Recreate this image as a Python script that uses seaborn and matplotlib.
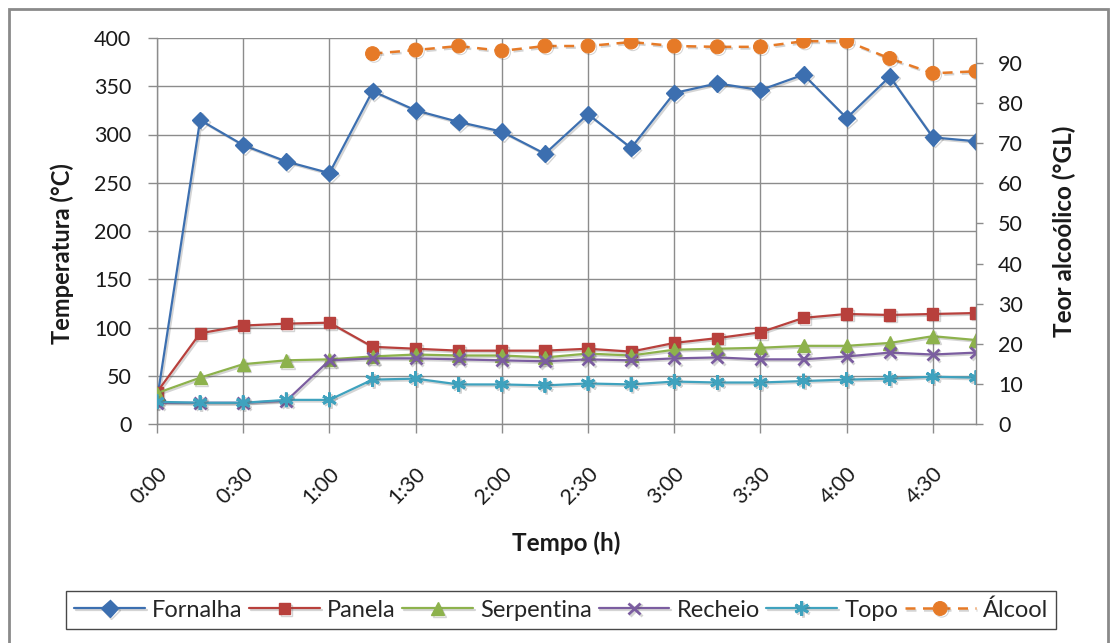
import numpy as np
import pandas as pd
import matplotlib
matplotlib.use("Agg")
import matplotlib.pyplot as plt
import matplotlib.patheffects as pe
from matplotlib.patches import Rectangle
import seaborn as sns

# Sampling instants (minutes) and labels on the time axis
minutes = [0, 15, 30, 45, 60, 75, 90, 105, 120, 135, 150, 165, 180, 195, 210, 225, 240, 255, 270, 285]
tick_minutes = [0, 30, 60, 90, 120, 150, 180, 210, 240, 270]
tick_labels = ["0:00", "0:30", "1:00", "1:30", "2:00", "2:30", "3:00", "3:30", "4:00", "4:30"]

# Temperatures (°C)
fornalha = [25, 315, 289, 272, 260, 345, 325, 313, 303, 280, 321, 286, 343, 353, 346, 362, 317, 360, 297, 293]
panela = [33, 94, 102, 104, 105, 80, 78, 76, 76, 76, 78, 75, 84, 89, 95, 110, 114, 113, 114, 115]
serpentina = [32, 48, 62, 66, 67, 70, 72, 71, 71, 69, 73, 71, 77, 78, 79, 81, 81, 84, 91, 87]
recheio = [22, 22, 22, 24, 66, 68, 68, 67, 66, 65, 67, 66, 68, 69, 67, 67, 70, 74, 72, 74]
topo = [23, 22, 22, 25, 25, 46, 47, 41, 41, 40, 42, 41, 44, 43, 43, 44.5, 46, 47, 49, 48]

# Alcohol content (°GL), measured from 1:15 on
alcool = [None, None, None, None, None, 92.3, 93.2, 94.2, 93, 94.2, 94.2, 95.2, 94.2, 94, 94, 95.4, 95.4, 91.1, 87.4, 87.9]

sns.set_style("white")
plt.rcParams["font.family"] = ["Lato", "DejaVu Sans"]

temp_df = pd.DataFrame({
    "t": minutes,
    "Fornalha": fornalha,
    "Panela": panela,
    "Serpentina": serpentina,
    "Recheio": recheio,
    "Topo": topo,
})
alc_df = pd.DataFrame({"t": minutes, "Álcool": alcool}).dropna()

W, H = 1110, 643
fig = plt.figure(figsize=(W / 100, H / 100), dpi=100)
left, right, top, bottom = 157, 976, 38, 424
ax = fig.add_axes([left / W, 1 - bottom / H, (right - left) / W, (bottom - top) / H])
ax2 = ax.twinx()

grid_c = "#8c8c8c"
txt_c = "#1a1a1a"
shadow = [pe.SimpleLineShadow(offset=(1.2, -1.2), shadow_color="#555555", alpha=0.25), pe.Normal()]

styles = {
    "Fornalha": dict(color="#3C6FB0", marker="D", markersize=8.5),
    "Panela": dict(color="#B8403C", marker="s", markersize=8),
    "Serpentina": dict(color="#8DB24C", marker="^", markersize=9.5),
    "Recheio": dict(color="#7B5DA0", marker="x", markersize=8.5, markeredgewidth=2),
    "Topo": dict(color="#3FA2BE", marker=(6, 2, 0), markersize=10.5, markeredgewidth=2),
}

for name, st in styles.items():
    sns.lineplot(data=temp_df, x="t", y=name, ax=ax, label=name, linewidth=1.6,
                 color=st["color"], marker=st["marker"], markersize=st["markersize"],
                 markeredgecolor=st["color"], markeredgewidth=st.get("markeredgewidth", 1),
                 zorder=3)
    ax.lines[-1].set_path_effects(shadow)

sns.lineplot(data=alc_df, x="t", y="Álcool", ax=ax2, label="Álcool", linewidth=1.8,
             color="#E67A27", marker="o", markersize=10, markeredgecolor="#E67A27",
             linestyle="--", zorder=3)
ax2.lines[-1].set_dashes([4, 3])
ax2.lines[-1].set_path_effects(shadow)

# Axes limits and ticks
ax.set_xlim(0, 285)
ax.set_ylim(0, 400)
ax2.set_ylim(0, 96.2)
ax.set_yticks(np.arange(0, 401, 50))
ax2.set_yticks(np.arange(0, 91, 10))
ax.set_xticks(tick_minutes)
ax.set_xticklabels(tick_labels, rotation=45, ha="right", va="top", rotation_mode="anchor")

ax.grid(True, color=grid_c, linewidth=1.0)
ax2.grid(False)
ax.set_axisbelow(True)

for a in (ax, ax2):
    for s in a.spines.values():
        s.set_color(grid_c)
        s.set_linewidth(1.0)
    a.spines["top"].set_visible(False)
ax.spines["right"].set_visible(False)
ax2.spines["left"].set_visible(False)
ax2.spines["bottom"].set_visible(False)

ax.tick_params(axis="y", which="both", left=True, length=6.5, width=1, color=grid_c,
               labelsize=15.5, pad=12, labelcolor=txt_c)
ax.tick_params(axis="x", bottom=True, length=6.5, width=1, color=grid_c,
               labelsize=15.5, pad=22, labelcolor=txt_c)
ax2.tick_params(axis="y", right=True, length=5, width=1, color=grid_c,
                labelsize=15.5, pad=11, labelcolor=txt_c)

ax.set_xlabel("")
ax.set_ylabel("")
ax2.set_ylabel("")
if ax.get_legend():
    ax.get_legend().remove()
if ax2.get_legend():
    ax2.get_legend().remove()

fig.text(566 / W, 1 - 543 / H, "Tempo (h)", ha="center", va="center",
         fontsize=17.5, fontweight="bold", color=txt_c)
fig.text(62 / W, 1 - 254 / H, "Temperatura (°C)", ha="center", va="center",
         rotation=90, fontsize=17, fontweight="bold", color=txt_c)
fig.text(1064 / W, 1 - 231 / H, "Teor alcoólico (°GL)", ha="center", va="center",
         rotation=90, fontsize=17.5, fontweight="bold", color=txt_c)

# Legend across the bottom
h1, l1 = ax.get_legend_handles_labels()
h2, l2 = ax2.get_legend_handles_labels()
leg = fig.legend(h1 + h2, l1 + l2, loc="center", bbox_to_anchor=(561 / W, 1 - 610 / H),
                 ncol=6, frameon=True, fancybox=False, fontsize=17,
                 handlelength=3.0, handletextpad=0.3, columnspacing=0.28,
                 borderpad=0.35, edgecolor=txt_c)
leg.get_frame().set_linewidth(1.0)

# Chart-area frame
fig.patches.append(Rectangle((9 / W, -0.05), (1108 - 9) / W, 1.05 - 9 / H,
                             transform=fig.transFigure, fill=False,
                             edgecolor="#8a8a8a", linewidth=2.0))

fig.savefig("out.png", dpi=100)
